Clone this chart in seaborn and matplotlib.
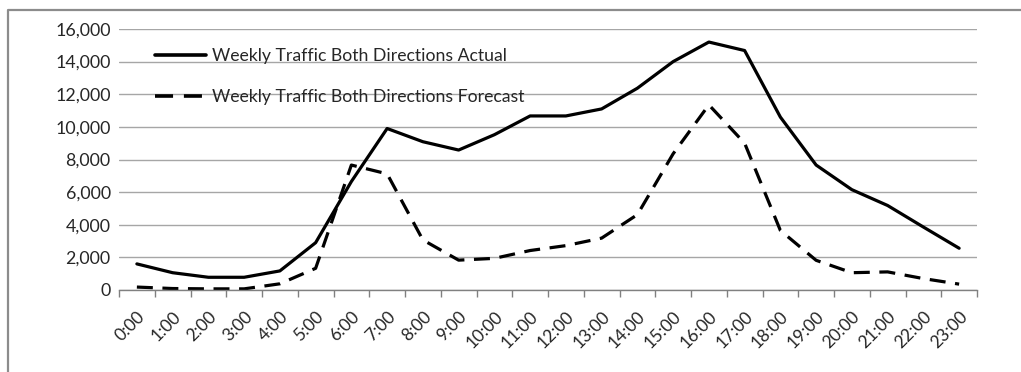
import matplotlib
matplotlib.use("Agg")
import matplotlib.pyplot as plt
import seaborn as sns
import pandas as pd
from matplotlib.lines import Line2D
from matplotlib.ticker import FuncFormatter

hours = [f"{h}:00" for h in range(24)]
actual = [1600, 1060, 780, 780, 1170, 2900, 6650, 9900, 9090, 8580, 9520, 10670,
          10670, 11100, 12370, 14000, 15200, 14680, 10600, 7660, 6150, 5180, 3860, 2560]
forecast = [180, 90, 70, 70, 380, 1330, 7660, 7120, 3070, 1830, 1940, 2420,
            2720, 3180, 4620, 8350, 11350, 9000, 3650, 1820, 1060, 1110, 700, 360]
labels = ["Weekly Traffic Both Directions Actual", "Weekly Traffic Both Directions Forecast"]

sns.set_theme(style="white")
plt.rcParams['font.family'] = ['Lato', 'DejaVu Sans']

df = pd.DataFrame({"hour": list(range(24)) * 2,
                   "value": actual + forecast,
                   "series": [labels[0]] * 24 + [labels[1]] * 24})

fig = plt.figure(figsize=(10.21, 3.72), dpi=100)
ax = fig.add_axes([119 / 1021, 1 - 290 / 372, (977 - 119) / 1021, (290 - 29) / 372])

sns.lineplot(data=df, x="hour", y="value", style="series", color="black",
             dashes={labels[0]: "", labels[1]: (5, 3)}, linewidth=2.3, ax=ax)

ax.set_xlim(-0.5, 23.5)
ax.set_ylim(0, 16000)
ax.set_yticks(range(0, 16001, 2000))
ax.yaxis.set_major_formatter(FuncFormatter(lambda v, p: f"{int(v):,}"))
ax.set_xticks(range(24))
ax.set_xticklabels(hours, rotation=45, ha="right", rotation_mode="anchor")
ax.set_xticks([i - 0.5 for i in range(25)], minor=True)
ax.tick_params(axis="x", which="major", length=0, pad=13, labelsize=12.5)
ax.tick_params(axis="x", which="minor", length=5, color="#808080", width=1, direction="out", bottom=True)
ax.tick_params(axis="y", length=0, labelsize=12.8, pad=6)
ax.grid(axis="y", color="#a6a6a6", linewidth=1)
ax.set_axisbelow(True)
for s in ["top", "right", "left"]:
    ax.spines[s].set_visible(False)
ax.spines["bottom"].set_color("#808080")
ax.spines["bottom"].set_linewidth(1)
ax.set_xlabel("")
ax.set_ylabel("")

leg = ax.legend(loc="upper left", bbox_to_anchor=(0.034, 0.955), frameon=False,
                fontsize=12.7, handlelength=2.9, labelspacing=1.45, handletextpad=0.3,
                borderaxespad=0)
for line in leg.get_lines():
    line.set_linewidth(2.6)

fig.add_artist(Line2D([8 / 1021, 8 / 1021, 1.0], [0.0, 1 - 10 / 372, 1 - 10 / 372],
                      transform=fig.transFigure, color="#8c8c8c", linewidth=1.6))

fig.savefig("out.png", dpi=100)
